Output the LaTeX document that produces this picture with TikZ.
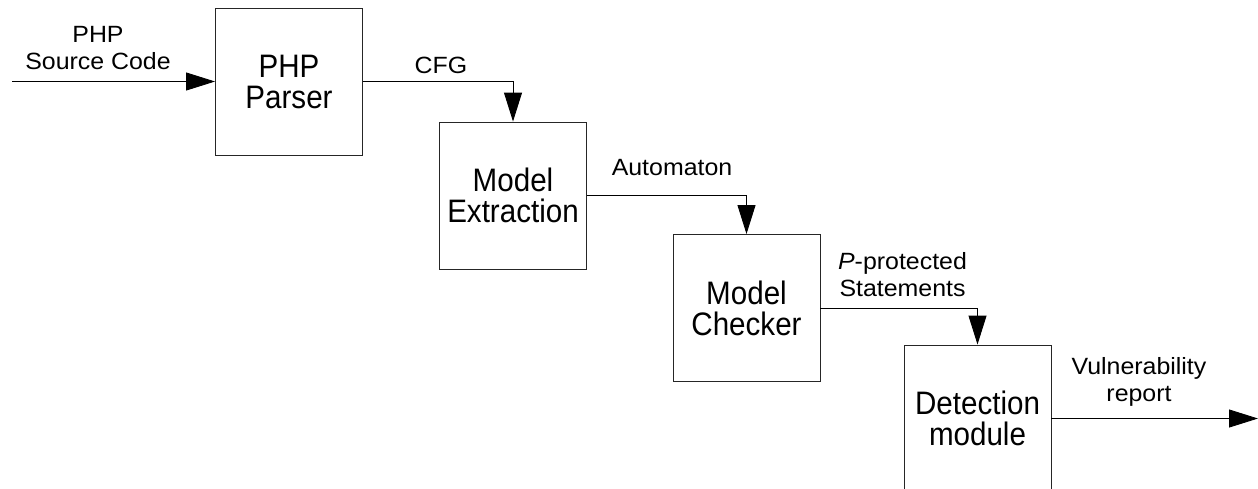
\documentclass[tikz,border=0pt]{standalone}
\usepackage{fontspec}
\setmainfont{Liberation Sans}
\newfontfamily\stagefont[FakeStretch=0.91]{Liberation Sans}
\newfontfamily\flowfont[FakeStretch=1.06]{Liberation Sans}
\usetikzlibrary{arrows.meta}

\begin{document}
\begin{tikzpicture}[x=1pt, y=-1pt,
  stage/.style={draw=black!85, line width=0.9pt, minimum width=147pt, minimum height=147pt,
    inner sep=0pt, align=center, font=\stagefont\fontsize{32.5}{31}\selectfont},
  lbl/.style={align=center, inner sep=0pt, font=\flowfont\fontsize{23.5}{27}\selectfont},
  flow/.style={draw=black, line width=0.9pt,
    -{Triangle[length=29pt, width=18pt]}}]
  \useasboundingbox (0,0) rectangle (1258,488);

  % processing stages
  \node[stage] (parser)  at (289,81.5)   {PHP\\Parser};
  \node[stage] (extract) at (513,195.5)  {Model\\Extraction};
  \node[stage] (checker) at (746.5,308)  {Model\\Checker};
  \node[stage] (detect)  at (977.5,418.5) {Detection\\module};

  % loose ends of the pipeline
  \coordinate (src) at (12,81.5);
  \coordinate (out) at (1258,418.5);

  % data flow
  \draw[flow] (src) -- (parser.west);
  \draw[flow] (parser.east) -| (extract.north);
  \draw[flow] (extract.east) -| (checker.north);
  \draw[flow] (checker.east) -| (detect.north);
  \draw[flow] (detect.east) -- (out);

  % flow labels
  \node[lbl] (lsrc)  at (98,48)     {PHP\\Source Code};
  \node[lbl] (lcfg)  at (441,65)    {CFG};
  \node[lbl] (lauto) at (672,168)   {Automaton};
  \node[lbl] (lprot) at (902.5,274.5) {\textit{P}-protected\\Statements};
  \node[lbl] (lrep)  at (1139,382)  {Vulnerability\\report};
\end{tikzpicture}
\end{document}
